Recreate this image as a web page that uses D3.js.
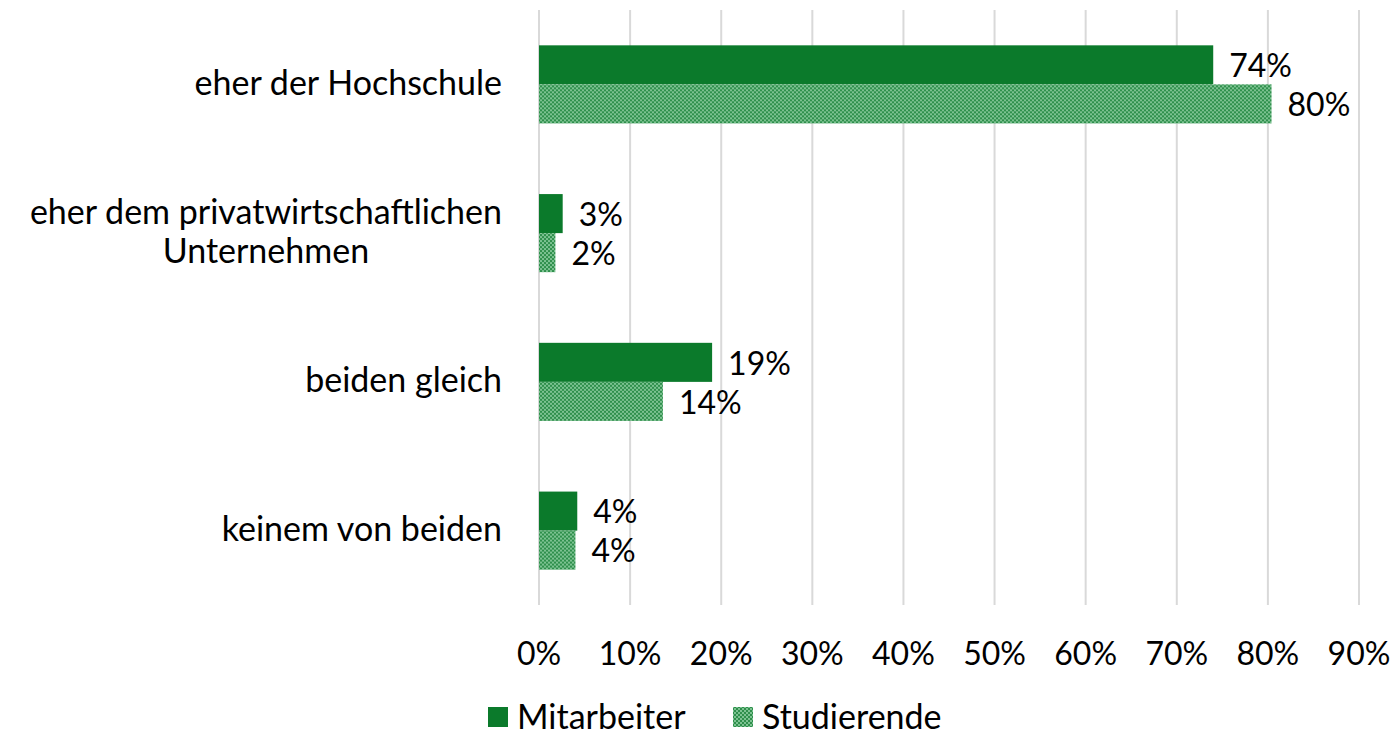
<!DOCTYPE html>
<html>
<head>
<meta charset="utf-8">
<script src="https://cdn.jsdelivr.net/npm/d3@7"></script>
<style>
  body { margin: 0; background: #fff; }
  svg { font-family: Lato, "Open Sans", sans-serif; }
</style>
</head>
<body>
<div id="chart"></div>
<script>
// Kategorien (Zeilen) und Werte in %
const categories = ['eher der Hochschule', 'eher dem privatwirtschaftlichen|Unternehmen', 'beiden gleich', 'keinem von beiden'];
const series = ['Mitarbeiter', 'Studierende'];
const mitarbeiter = [74.0, 2.6, 19.0, 4.2];
const studierende = [80.4, 1.8, 13.6, 4.0];
const ticks = [0, 10, 20, 30, 40, 50, 60, 70, 80, 90];

const width = 1398,
  height = 736,
  margin = { top: 10, right: 39, bottom: 131, left: 539 };

const green = '#0b7a2b';
const numSize = 32,
  textSize = 34;

const svg = d3.select('#chart').append('svg')
  .attr('width', width)
  .attr('height', height);

// Muster fuer Studierende
const defs = svg.append('defs');
const pat = defs.append('pattern')
  .attr('id', 'dots')
  .attr('patternUnits', 'userSpaceOnUse')
  .attr('width', 4)
  .attr('height', 4);
pat.append('rect').attr('width', 4).attr('height', 4).attr('fill', '#7cc291');
pat.append('rect').attr('width', 2).attr('height', 2).attr('fill', '#2f8f4c');
pat.append('rect').attr('x', 2).attr('y', 2).attr('width', 2).attr('height', 2).attr('fill', '#2f8f4c');

const x = d3.scaleLinear()
  .domain([0, 90])
  .range([margin.left, width - margin.right]);

const y = d3.scaleBand()
  .domain(categories)
  .range([margin.top, height - margin.bottom])
  .paddingInner(0.475)
  .paddingOuter(0.2375);

const inner = d3.scaleBand()
  .domain(series)
  .range([0, y.bandwidth()]);

const fills = { Mitarbeiter: green, Studierende: 'url(#dots)' };

// Gitterlinien
svg.append('g')
  .selectAll('line')
  .data(ticks)
  .enter().append('line')
  .attr('x1', d => x(d))
  .attr('x2', d => x(d))
  .attr('y1', margin.top)
  .attr('y2', height - margin.bottom)
  .attr('stroke', '#d9d9d9')
  .attr('stroke-width', 2);

// Achsenbeschriftung
svg.append('g')
  .selectAll('text')
  .data(ticks)
  .enter().append('text')
  .attr('x', d => x(d))
  .attr('y', 665)
  .attr('text-anchor', 'middle')
  .style('font-size', numSize + 'px')
  .attr('fill', '#000')
  .text(d => d + '%');

// Balken
const rows = categories.map((c, i) => ({ cat: c, values: [
  { key: 'Mitarbeiter', value: mitarbeiter[i] },
  { key: 'Studierende', value: studierende[i] }
] }));

const grp = svg.append('g')
  .selectAll('g')
  .data(rows)
  .enter().append('g')
  .attr('transform', d => `translate(0,${y(d.cat)})`);

grp.selectAll('rect')
  .data(d => d.values)
  .enter().append('rect')
  .attr('x', x(0))
  .attr('y', d => inner(d.key))
  .attr('width', d => x(d.value) - x(0))
  .attr('height', inner.bandwidth())
  .attr('fill', d => fills[d.key]);

grp.selectAll('text')
  .data(d => d.values)
  .enter().append('text')
  .attr('x', d => x(d.value) + 16)
  .attr('y', d => inner(d.key) + inner.bandwidth() / 2)
  .attr('dy', '0.38em')
  .style('font-size', numSize + 'px')
  .attr('fill', '#000')
  .text(d => Math.round(d.value) + '%');

// Kategorien links
const labelRight = 502;
const catLabels = svg.append('g')
  .selectAll('text')
  .data(categories)
  .enter().append('text')
  .style('font-size', textSize + 'px')
  .attr('fill', '#000')
  .attr('text-anchor', 'middle');

catLabels.each(function (d) {
  const lines = d.split('|');
  const t = d3.select(this);
  const lh = 39;
  const cy = y(d) + y.bandwidth() / 2;
  const y0 = cy - (lines.length - 1) * lh / 2;
  lines.forEach((l, i) => {
    t.append('tspan').attr('y', y0 + i * lh).attr('dy', '0.3em').text(l);
  });
  const w = d3.max(t.selectAll('tspan').nodes(), n => n.getComputedTextLength());
  t.selectAll('tspan').attr('x', labelRight - w / 2);
});

// Legende
const legend = svg.append('g');
const legendX = [488, 733];
series.forEach((s, i) => {
  legend.append('rect')
    .attr('x', legendX[i])
    .attr('y', 707)
    .attr('width', 20)
    .attr('height', 20)
    .attr('fill', fills[s]);
  legend.append('text')
    .attr('x', legendX[i] + 29)
    .attr('y', 717)
    .attr('dy', '0.35em')
    .style('font-size', textSize + 'px')
    .attr('fill', '#000')
    .text(s);
});
</script>
</body>
</html>
